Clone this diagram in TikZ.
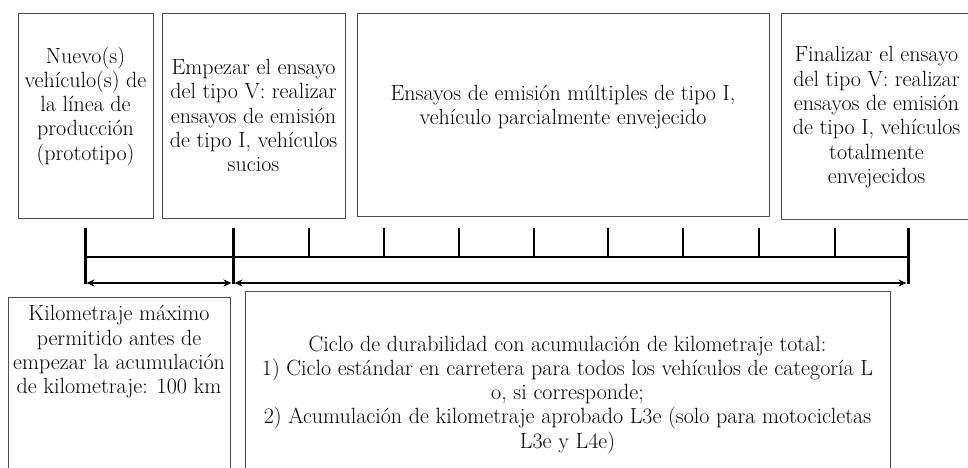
\documentclass[tikz,border=0pt]{standalone}
\usepackage{fontspec}
\usetikzlibrary{arrows.meta}

% bloque de lineas centradas, desplazado verticalmente #1
\newcommand{\lineas}[2]{\raisebox{#1}[0pt][0pt]{\begin{tabular}{@{}c@{}}#2\end{tabular}}}

\begin{document}
\begin{tikzpicture}[x=1pt, y=-1pt,
    box/.style={draw=black!70, line width=0.9pt, inner sep=0pt,
      font=\fontsize{22}{24.3}\selectfont},
    axis/.style={line width=2pt},
    bigtick/.style={line width=3pt},
    midtick/.style={line width=1.7pt},
    smalltick/.style={line width=1.2pt},
    span/.style={{Stealth[length=8pt,width=7pt]}-{Stealth[length=8pt,width=7pt]}, line width=1.3pt, shorten <=1.5pt, shorten >=1.5pt}
]
    \useasboundingbox (0,0) rectangle (968,467);

    % Cajas superiores
    \node[box, minimum width=135, minimum height=205] (nuevo) at (85.5,115.5)
      {\lineas{3.5pt}{Nuevo(s)\\vehículo(s) de\\la línea de\\producción\\(prototipo)}};
    \node[box, minimum width=183, minimum height=205] (empezar) at (253.5,115.5)
      {\lineas{-8pt}{Empezar el ensayo\\del tipo V: realizar\\ensayos de emisión\\de tipo I, vehículos\\sucios}};
    \node[box, minimum width=412, minimum height=203] (multiples) at (563,114.5)
      {\lineas{2pt}{Ensayos de emisión múltiples de tipo I,\\vehículo parcialmente envejecido}};
    \node[box, minimum width=191, minimum height=206] (finalizar) at (876.5,116)
      {\lineas{-7pt}{Finalizar el ensayo\\del tipo V: realizar\\ensayos de emisión\\de tipo I, vehículos\\totalmente\\envejecidos}};

    % Cajas inferiores
    \node[box, minimum width=222, minimum height=193] (km) at (119,393.5)
      {\lineas{36pt}{Kilometraje máximo\\permitido antes de\\empezar la acumulación\\de kilometraje: 100 km}};
    \node[box, minimum width=645, minimum height=199] (ciclo) at (567.5,390.5)
      {\lineas{-9.5pt}{Ciclo de durabilidad con acumulación de kilometraje total:\\
       1) Ciclo estándar en carretera para todos los vehículos de categoría L\\
       o, si corresponde;\\
       2) Acumulación de kilometraje aprobado L3e (solo para motocicletas\\
       L3e y L4e)}};

    % Escala de kilometraje
    \coordinate (s0) at (85,257);
    \coordinate (s1) at (233,257);
    \coordinate (s2) at (908,257);
    \draw[axis] (s0) -- (s2);
    \foreach \x in {309,384,459,534,608,683,835}
      \draw[smalltick] (\x,228) -- (\x,257);
    \draw[midtick] (759,228) -- (759,257);
    \foreach \c in {s0,s1,s2}
      \draw[bigtick] ([yshift=29pt]\c) -- ([yshift=-27pt]\c);

    % Flechas
    \coordinate (a0) at (85,283);
    \coordinate (a1) at (233,283);
    \coordinate (a2) at (908,283);
    \draw[span] (a0) -- (a1);
    \draw[span] (a1) -- (a2);
\end{tikzpicture}
\end{document}
